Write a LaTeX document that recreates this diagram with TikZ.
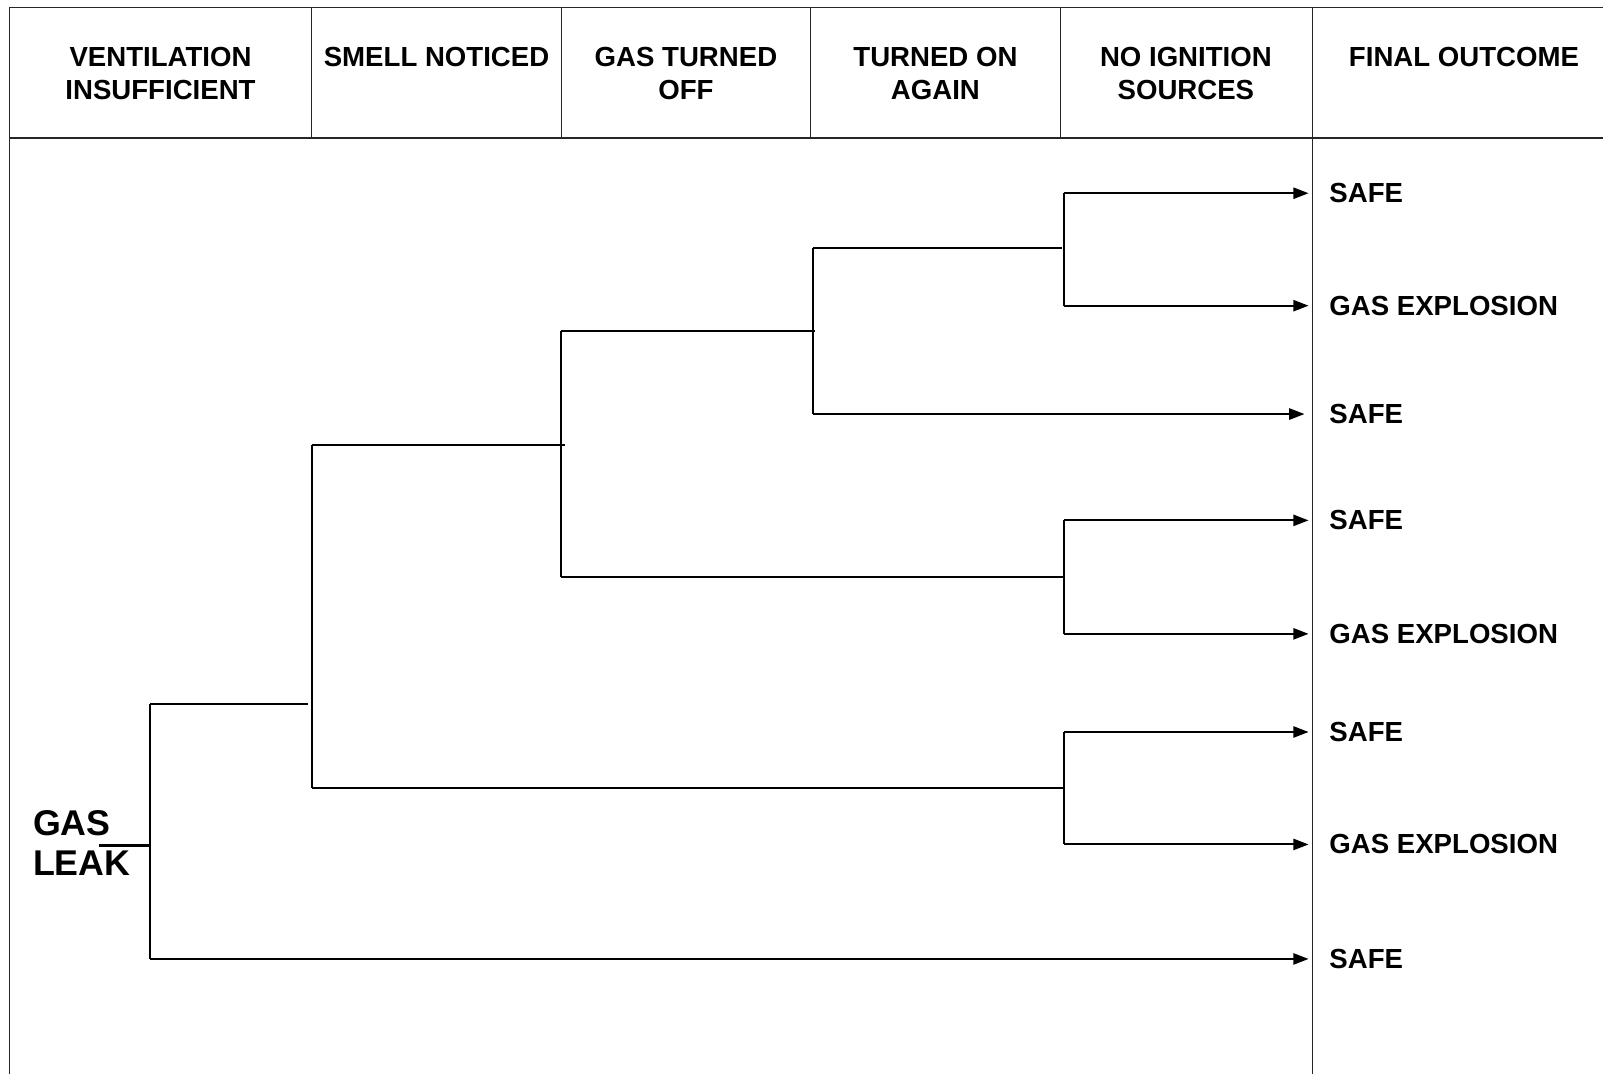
\documentclass[tikz,border=0pt]{standalone}
\usepackage{fontspec}
\setmainfont{Liberation Sans}
\usetikzlibrary{arrows.meta}

\begin{document}
\begin{tikzpicture}[x=0.5pt, y=-0.5pt,
    frame/.style={line width=0.6pt, black!85},
    branch/.style={line width=1pt},
    outarrow/.style={branch, shorten >=10pt, -{Triangle[length=7.5pt,width=5.5pt]}},
    head/.style={font=\bfseries\fontsize{13.5}{16}\selectfont, align=center, anchor=north, inner sep=0pt},
    outcome/.style={font=\bfseries\fontsize{13.5}{16}\selectfont, anchor=west, inner sep=0pt}]

    \useasboundingbox (0,0) rectangle (1568,1051);

    % Draw the table frame
    \draw[frame] (1568,7) -- (9,7) -- (9,1051);
    \draw[frame] (9,135) -- (1568,135);
    \foreach \x in {305, 549, 793, 1037} {
        \draw[frame] (\x,7) -- (\x,135);
    }
    \draw[frame] (1284,7) -- (1284,1051);

    % Column headings
    \node[head] (hvent) at (157,46) {VENTILATION\\INSUFFICIENT};
    \node[head] (hsmell) at (427,46) {SMELL NOTICED};
    \node[head] (hoff) at (671,46) {GAS TURNED\\OFF};
    \node[head] (hagain) at (915,46) {TURNED ON\\AGAIN};
    \node[head] (hignit) at (1160,46) {NO IGNITION\\SOURCES};
    \node[head] (hfinal) at (1432,46) {FINAL OUTCOME};

    % Initiating event
    \node[anchor=north west, align=left, inner sep=0pt,
          font=\bfseries\fontsize{17.5}{20}\selectfont] (leak) at (32,792) {GAS\\LEAK};

    % Final outcomes
    \node[outcome] (out1) at (1300,189) {SAFE};
    \node[outcome] (out2) at (1300,299) {GAS EXPLOSION};
    \node[outcome] (out3) at (1300,405) {SAFE};
    \node[outcome] (out4) at (1300,509) {SAFE};
    \node[outcome] (out5) at (1300,620) {GAS EXPLOSION};
    \node[outcome] (out6) at (1300,716) {SAFE};
    \node[outcome] (out7) at (1300,826) {GAS EXPLOSION};
    \node[outcome] (out8) at (1300,938) {SAFE};

    % Branch points
    \coordinate (src) at (97,827);
    \coordinate (vent) at (147,827);
    \coordinate (ventU) at (147,689);
    \coordinate (ventD) at (147,938);
    \coordinate (smellU) at (305,435);
    \coordinate (smellD) at (305,771);
    \coordinate (offU) at (549,324);
    \coordinate (offD) at (549,564);
    \coordinate (againU) at (795,243);
    \coordinate (againD) at (795,405);
    \coordinate (ign1) at (1041,189);
    \coordinate (ign2) at (1041,299);
    \coordinate (ign3) at (1041,509);
    \coordinate (ign4) at (1041,620);
    \coordinate (ign5) at (1041,716);
    \coordinate (ign6) at (1041,826);

    % Draw the event tree
    \draw[branch] (src) -- (vent);
    \draw[branch] (ventU) -- (ventD);
    \draw[branch] (ventU) -- (301,689);
    \draw[outarrow] (ventD) -- (out8.west);

    \draw[branch] (smellU) -- (smellD);
    \draw[branch] (smellU) -- (553,435);
    \draw[branch] (smellD) -- (1041,771);

    \draw[branch] (offU) -- (offD);
    \draw[branch] (offU) -- (797,324);
    \draw[branch] (offD) -- (1041,564);

    \draw[branch] (againU) -- (againD);
    \draw[branch] (againU) -- (1039,243);
    \draw[outarrow, shorten >=12pt] (againD) -- (out3.west);

    \draw[branch] (ign1) -- (ign2);
    \draw[branch] (ign3) -- (ign4);
    \draw[branch] (ign5) -- (ign6);
    \draw[outarrow] (ign1) -- (out1.west);
    \draw[outarrow] (ign2) -- (out2.west);
    \draw[outarrow] (ign3) -- (out4.west);
    \draw[outarrow] (ign4) -- (out5.west);
    \draw[outarrow] (ign5) -- (out6.west);
    \draw[outarrow] (ign6) -- (out7.west);

\end{tikzpicture}
\end{document}
